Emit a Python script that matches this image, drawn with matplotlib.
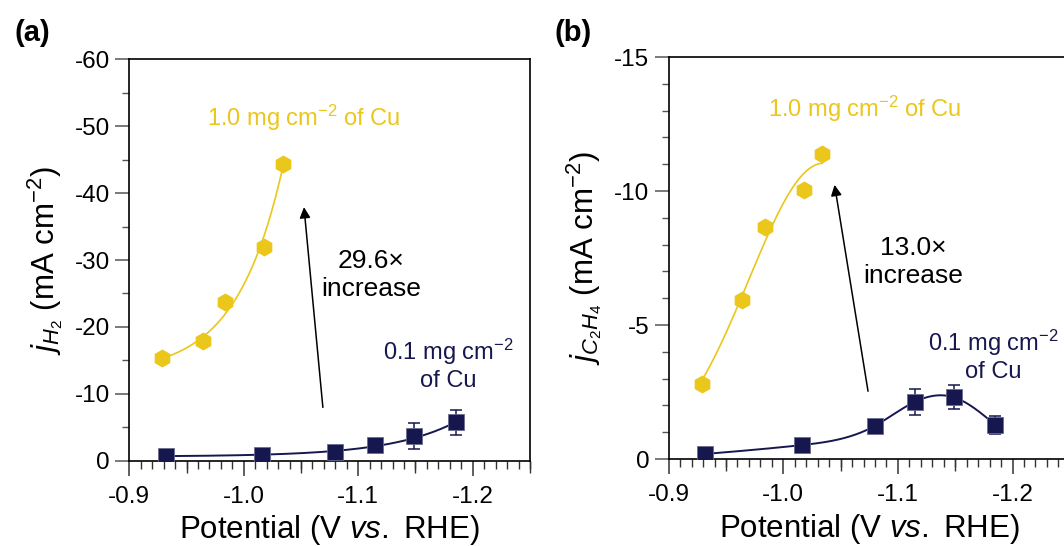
import numpy as np
import matplotlib
matplotlib.use('Agg')
import matplotlib.pyplot as plt
from matplotlib.ticker import MultipleLocator, FormatStrFormatter

plt.rcParams['font.family'] = ['Liberation Sans', 'DejaVu Sans']
plt.rcParams['mathtext.fontset'] = 'custom'
plt.rcParams['mathtext.rm'] = 'Liberation Sans'
plt.rcParams['mathtext.it'] = 'Liberation Sans:italic'
plt.rcParams['mathtext.bf'] = 'Liberation Sans:bold'
plt.rcParams['axes.unicode_minus'] = False

# ---------------- data ----------------
pot_high = [-0.929, -0.964, -0.984, -1.018, -1.034]
pot_low = [-0.932, -1.016, -1.080, -1.115, -1.149, -1.185]

jH2_high = [-15.3, -17.9, -23.7, -32.0, -44.4]
jH2_low = [-0.70, -0.85, -1.35, -2.35, -3.71, -5.74]
jH2_low_err = [0.2, 0.2, 0.3, 0.4, 1.9, 1.9]

jC2H4_high = [-2.79, -5.93, -8.65, -10.04, -11.37]
jC2H4_low = [-0.19, -0.52, -1.24, -2.14, -2.30, -1.27]
jC2H4_low_err = [0.1, 0.1, 0.2, 0.48, 0.45, 0.33]

YELLOW = '#EBC61B'
NAVY = '#17174F'


# ---------------- fits ----------------
def exp_fit(x, y, n=300):
    u = -np.asarray(x, float)
    m = -np.asarray(y, float)
    best = None
    for c in np.linspace(0, m.min() * 0.98, 400):
        b, lna = np.polyfit(u, np.log(m - c), 1)
        pred = c + np.exp(lna + b * u)
        sse = ((pred - m) ** 2).sum()
        if best is None or sse < best[0]:
            best = (sse, c, b, lna)
    _, c, b, lna = best
    uu = np.linspace(u.min(), u.max(), n)
    return -uu, -(c + np.exp(lna + b * uu))


def gauss_fit(x, y, n=300):
    u = -np.asarray(x, float)
    m = -np.asarray(y, float)
    xcs = np.linspace(u.mean(), u.max() + 0.1, 250)
    ws = np.linspace(0.02, 0.25, 250)
    XC, W = np.meshgrid(xcs, ws, indexing='ij')
    g = np.exp(-(u[None, None, :] - XC[..., None]) ** 2 / (2 * W[..., None] ** 2))
    A = (g * m).sum(-1) / (g * g).sum(-1)
    sse = ((A[..., None] * g - m) ** 2).sum(-1)
    i, j = np.unravel_index(np.argmin(sse), sse.shape)
    uu = np.linspace(u.min(), u.max(), n)
    return -uu, -(A[i, j] * np.exp(-(uu - XC[i, j]) ** 2 / (2 * W[i, j] ** 2)))


def natural_spline(x, y, n=300):
    x = np.asarray(x, float)
    y = np.asarray(y, float)
    o = np.argsort(x)
    x, y = x[o], y[o]
    N = len(x)
    h = np.diff(x)
    A = np.zeros((N, N))
    r = np.zeros(N)
    A[0, 0] = A[-1, -1] = 1
    for i in range(1, N - 1):
        A[i, i - 1] = h[i - 1]
        A[i, i] = 2 * (h[i - 1] + h[i])
        A[i, i + 1] = h[i]
        r[i] = 6 * ((y[i + 1] - y[i]) / h[i] - (y[i] - y[i - 1]) / h[i - 1])
    M = np.linalg.solve(A, r)
    xx = np.linspace(x[0], x[-1], n)
    idx = np.clip(np.searchsorted(x, xx) - 1, 0, N - 2)
    x0, x1 = x[idx], x[idx + 1]
    hh = x1 - x0
    t0, t1 = x1 - xx, xx - x0
    yy = (M[idx] * t0 ** 3 / (6 * hh) + M[idx + 1] * t1 ** 3 / (6 * hh)
          + (y[idx] / hh - M[idx] * hh / 6) * t0 + (y[idx + 1] / hh - M[idx + 1] * hh / 6) * t1)
    return xx, yy


# ---------------- figure ----------------
fig = plt.figure(figsize=(10.64, 5.46), dpi=100)
ax1 = fig.add_axes([0.1215, 0.1562, 0.3766, 0.7352])
ax2 = fig.add_axes([0.6285, 0.1593, 0.3770, 0.7363])

TICK_FS = 17.5
LABEL_FS = 22.5
ANN_FS = 17
HEX_MS = 13
SQ_MS = 12


def style_axes(ax, ymax, ymajor, yminor, ylabel):
    ax.set_xlim(-0.9, -1.25)
    ax.set_ylim(0, ymax)
    ax.xaxis.set_major_locator(MultipleLocator(0.1))
    ax.xaxis.set_minor_locator(MultipleLocator(0.01))
    ax.xaxis.set_major_formatter(FormatStrFormatter('%.1f'))
    ax.yaxis.set_major_locator(MultipleLocator(ymajor))
    ax.yaxis.set_minor_locator(MultipleLocator(yminor))
    ax.yaxis.set_major_formatter(FormatStrFormatter('%d'))
    for s in ax.spines.values():
        s.set_linewidth(1.2)
        s.set_color('black')
    ax.tick_params(axis='x', which='major', direction='out', length=11, width=1.1,
                   color='#333333', labelsize=TICK_FS, pad=7)
    ax.tick_params(axis='x', which='minor', direction='out', length=6, width=1.0, color='#333333')
    ax.tick_params(axis='y', which='major', direction='out', length=10, width=1.1,
                   color='#555555', labelsize=TICK_FS, pad=4)
    ax.tick_params(axis='y', which='minor', direction='out', length=5, width=1.0, color='#555555')
    sec = ax.secondary_xaxis('bottom')
    sec.set_xticks([-0.95, -1.05, -1.15, -1.25])
    sec.set_xticklabels([])
    sec.tick_params(direction='out', length=8.5, width=1.0, color='#333333')
    sec.spines['bottom'].set_visible(False)
    ax.set_xlabel('Potential (V $\\mathit{vs.}$ RHE)', fontsize=LABEL_FS, labelpad=4)
    ax.set_ylabel(ylabel, fontsize=LABEL_FS, labelpad=7)


style_axes(ax1, -60, 10, 5, '$j_{H_2}$ (mA cm$^{-2}$)')
style_axes(ax2, -15, 5, 1, '$j_{C_2H_4}$ (mA cm$^{-2}$)')

# ----- panel (a) -----
fx, fy = exp_fit(pot_high, jH2_high)
ax1.plot(fx, fy, color=YELLOW, lw=1.2, zorder=2)
ax1.plot(pot_high, jH2_high, 'h', color=YELLOW, ms=HEX_MS, mew=0, zorder=3)
fx, fy = exp_fit(pot_low, jH2_low)
ax1.plot(fx, fy, color=NAVY, lw=1.4, zorder=2)
ax1.errorbar(pot_low, jH2_low, yerr=jH2_low_err, fmt='none', ecolor=NAVY,
             elinewidth=1.1, capsize=4, capthick=1.1, zorder=2.5)
ax1.plot(pot_low, jH2_low, 's', color=NAVY, ms=SQ_MS, mec='#6b6b90', mew=0.6, zorder=3)

ax1.text(-1.0526, -51.2, '1.0 mg cm$^{-2}$ of Cu', color=YELLOW, fontsize=ANN_FS,
         ha='center', va='center')
ax1.text(-1.1114, -27.75, '29.6\u00d7\nincrease', color='black', fontsize=19,
         ha='center', va='center', multialignment='center')
ax1.annotate('', xy=(-1.0526, -37.9), xytext=(-1.0691, -7.97),
             arrowprops=dict(arrowstyle='-|>', lw=1.1, color='black', mutation_scale=16,
                             shrinkA=0, shrinkB=0))
ax1.text(-1.1786, -14.4, '0.1 mg cm$^{-2}$\nof Cu', color=NAVY, fontsize=ANN_FS,
         ha='center', va='center', multialignment='center')

# ----- panel (b) -----
fx, fy = gauss_fit(pot_high, jC2H4_high)
ax2.plot(fx, fy, color=YELLOW, lw=1.2, zorder=2)
ax2.plot(pot_high, jC2H4_high, 'h', color=YELLOW, ms=HEX_MS, mew=0, zorder=3)
fx, fy = natural_spline(pot_low, jC2H4_low)
ax2.plot(fx, fy, color=NAVY, lw=1.4, zorder=2)
ax2.errorbar(pot_low, jC2H4_low, yerr=jC2H4_low_err, fmt='none', ecolor=NAVY,
             elinewidth=1.1, capsize=4, capthick=1.1, zorder=2.5)
ax2.plot(pot_low, jC2H4_low, 's', color=NAVY, ms=SQ_MS, mec='#6b6b90', mew=0.6, zorder=3)

ax2.text(-1.0709, -13.07, '1.0 mg cm$^{-2}$ of Cu', color=YELLOW, fontsize=ANN_FS,
         ha='center', va='center')
ax2.text(-1.1134, -7.34, '13.0\u00d7\nincrease', color='black', fontsize=19,
         ha='center', va='center', multialignment='center')
ax2.annotate('', xy=(-1.0447, -10.23), xytext=(-1.0739, -2.53),
             arrowprops=dict(arrowstyle='-|>', lw=1.1, color='black', mutation_scale=16,
                             shrinkA=0, shrinkB=0))
ax2.text(-1.1834, -3.87, '0.1 mg cm$^{-2}$\nof Cu', color=NAVY, fontsize=ANN_FS,
         ha='center', va='center', multialignment='center')

fig.text(14 / 1064, 1 - 33 / 546, '(a)', fontsize=21, fontweight='bold', ha='left', va='center')
fig.text(555 / 1064, 1 - 33 / 546, '(b)', fontsize=21, fontweight='bold', ha='left', va='center')

fig.savefig('out.png', dpi=100)
